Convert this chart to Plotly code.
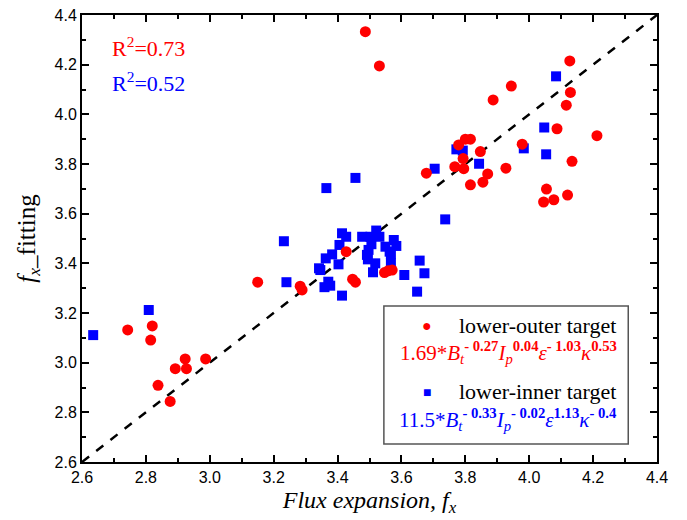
import plotly.graph_objects as go

# lower-outer target (red circles)
outer_x = [2.743, 2.820, 2.815, 2.923, 2.987, 2.892, 2.927, 2.838, 2.876,
           3.150, 3.283, 3.289, 3.427, 3.447, 3.456, 3.547, 3.558, 3.571,
           3.487, 3.531, 3.678, 3.887, 3.944, 4.127, 4.129, 4.116, 4.087,
           4.212, 3.978, 4.134, 4.054, 4.045, 4.077, 4.120, 3.927, 3.847,
           3.870, 3.855, 3.816, 3.795, 3.767, 3.793, 3.779, 3.800, 3.816]
outer_y = [3.132, 3.148, 3.091, 3.015, 3.015, 2.976, 2.976, 2.909, 2.844,
           3.324, 3.308, 3.293, 3.447, 3.336, 3.324, 3.363, 3.370, 3.373,
           4.333, 4.195, 3.763, 4.058, 4.114, 4.215, 4.088, 4.037, 3.942,
           3.914, 3.880, 3.811, 3.699, 3.647, 3.656, 3.675, 3.783, 3.850,
           3.760, 3.727, 3.716, 3.781, 3.789, 3.822, 3.877, 3.900, 3.900]

# lower-inner target (blue squares)
inner_x = [2.635, 2.809, 3.232, 3.240, 3.342, 3.346, 3.363, 3.359, 3.371,
           3.377, 3.383, 3.403, 3.406, 3.414, 3.427, 3.414, 3.477, 3.503,
           3.521, 3.531, 3.506, 3.497, 3.492, 3.495, 3.518, 3.511, 3.550,
           3.576, 3.584, 3.563, 3.567, 3.567, 3.609, 3.657, 3.672, 3.649,
           3.365, 3.456, 3.737, 3.704, 3.772, 3.792, 3.843, 3.983, 4.053,
           4.047, 4.084]
inner_y = [3.111, 3.212, 3.489, 3.324, 3.380, 3.373, 3.420, 3.304, 3.326,
           3.310, 3.436, 3.396, 3.474, 3.521, 3.507, 3.270, 3.507, 3.507,
           3.532, 3.507, 3.477, 3.454, 3.434, 3.416, 3.400, 3.364, 3.467,
           3.494, 3.470, 3.447, 3.437, 3.400, 3.353, 3.411, 3.360, 3.286,
           3.703, 3.744, 3.577, 3.781, 3.859, 3.854, 3.801, 3.863, 3.839,
           3.947, 4.153]

diag = [2.6, 4.4]
ticks = [2.6, 2.8, 3.0, 3.2, 3.4, 3.6, 3.8, 4.0, 4.2, 4.4]

serif = "Liberation Serif, Times New Roman, serif"
sans = "Liberation Sans, Arial, sans-serif"

fig = go.Figure()
fig.add_trace(go.Scatter(x=diag, y=diag, mode="lines",
                         line=dict(color="black", width=2.5, dash="dash"),
                         showlegend=False, hoverinfo="skip"))
fig.add_trace(go.Scatter(x=inner_x, y=inner_y, mode="markers",
                         marker=dict(symbol="square", size=10, color="#0000FF"),
                         name="lower-inner target", showlegend=False))
fig.add_trace(go.Scatter(x=outer_x, y=outer_y, mode="markers",
                         marker=dict(symbol="circle", size=11, color="#FF0000"),
                         name="lower-outer target", showlegend=False))

axis_common = dict(range=[2.6, 4.4], tickvals=ticks, tickformat=".1f",
                   ticks="inside", ticklen=7, tickwidth=1.5, tickcolor="black",
                   showline=True, linewidth=2, linecolor="black", mirror="ticks",
                   showgrid=False, zeroline=False, automargin=False,
                   minor=dict(ticks="inside", ticklen=4, tickwidth=1.5,
                              tickcolor="black", dtick=0.1, showgrid=False),
                   tickfont=dict(family=sans, size=16, color="black"))

fig.update_xaxes(**axis_common,
                 title=dict(text="<i>Flux expansion, f<sub>x</sub></i>",
                            font=dict(family=serif, size=24, color="black"),
                            standoff=6))
fig.update_yaxes(**axis_common,
                 title=dict(text="<i>f<sub>x</sub></i>_fitting",
                            font=dict(family=serif, size=25, color="black"),
                            standoff=12))

annotations = [
    dict(x=0.049, y=0.928, text="R<sup>2</sup>=0.73", font=dict(color="#FF0000", size=22, family=serif),
         xanchor="left"),
    dict(x=0.049, y=0.850, text="R<sup>2</sup>=0.52", font=dict(color="#0000FF", size=22, family=serif),
         xanchor="left"),
    dict(x=0.600, y=0.306, text="●", font=dict(color="#FF0000", size=16, family=sans), xanchor="center"),
    dict(x=0.652, y=0.306, text="lower-outer target", font=dict(color="black", size=22, family=serif),
         xanchor="left"),
    dict(x=0.741, y=0.246,
         text="1.69*<i>B<sub>t</sub></i><sup><b>- 0.27</b></sup><i>I<sub>p</sub></i><sup><b>0.04</b></sup>"
              "<i>ε</i><sup><b>- 1.03</b></sup><i>κ</i><sup><b>0.53</b></sup>",
         font=dict(color="#FF0000", size=21, family=serif), xanchor="center"),
    dict(x=0.600, y=0.157, text="■", font=dict(color="#0000FF", size=14, family=sans), xanchor="center"),
    dict(x=0.652, y=0.157, text="lower-inner target", font=dict(color="black", size=22, family=serif),
         xanchor="left"),
    dict(x=0.741, y=0.094,
         text="11.5*<i>B<sub>t</sub></i><sup><b>- 0.33</b></sup><i>I<sub>p</sub></i><sup><b>- 0.02</b></sup>"
              "<i>ε</i><sup><b>1.13</b></sup><i>κ</i><sup><b>- 0.4</b></sup>",
         font=dict(color="#0000FF", size=21, family=serif), xanchor="center"),
]
for a in annotations:
    a.update(xref="paper", yref="paper", showarrow=False, yanchor="middle")

fig.update_layout(
    width=687, height=520,
    margin=dict(l=82, r=30, t=15, b=58),
    plot_bgcolor="white", paper_bgcolor="white",
    annotations=annotations,
    shapes=[dict(type="rect", xref="paper", yref="paper", x0=0.525, x1=0.950, y0=0.040, y1=0.349,
                 line=dict(color="#555555", width=1.5), fillcolor="white", layer="below")],
)

fig.write_html("out.html", config={"displayModeBar": False},
               post_script="document.body.style.margin='0';")
